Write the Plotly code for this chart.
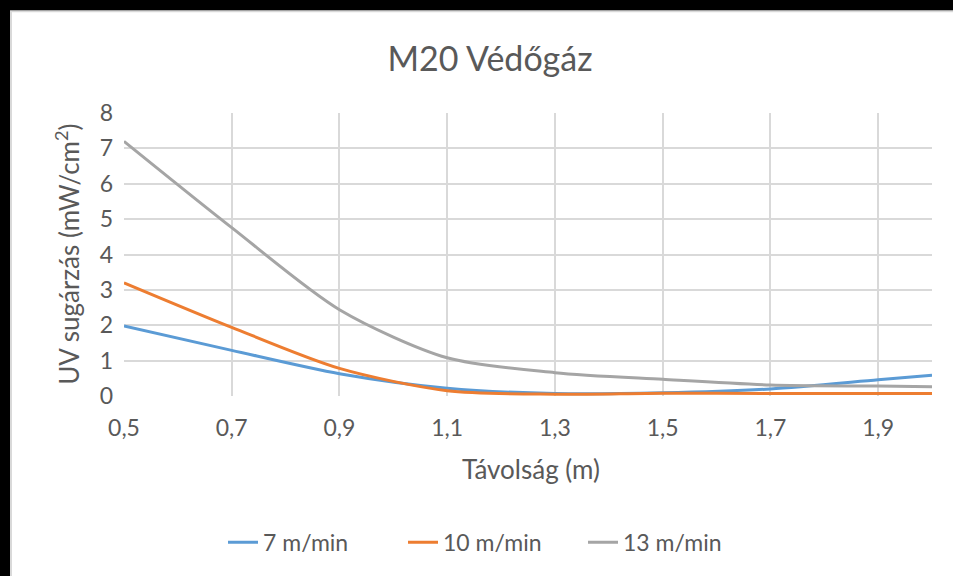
import plotly.graph_objects as go

distance = [0.5, 0.7, 0.9, 1.1, 1.3, 1.5, 1.7, 1.9, 2.0]
speed_7 = [1.98, 1.29, 0.63, 0.22, 0.07, 0.09, 0.20, 0.46, 0.59]
speed_10 = [3.20, 1.94, 0.78, 0.15, 0.05, 0.08, 0.07, 0.07, 0.07]
speed_13 = [7.20, 4.76, 2.44, 1.08, 0.66, 0.47, 0.31, 0.28, 0.26]
series_names = ["7 m/min", "10 m/min", "13 m/min"]
colors = ["#5B9BD5", "#ED7D31", "#A5A5A5"]

W, H = 953, 576
L, R, T, B = 124, 932, 113, 396.5
pw, ph = R - L, B - T


def px_x(p):
    return (p - L) / pw


def px_y(p):
    return (B - p) / ph


FONT = "Lato, 'Open Sans', sans-serif"
GRAY = "#595959"

fig = go.Figure()
for name, ys, c in zip(series_names, [speed_7, speed_10, speed_13], colors):
    fig.add_trace(go.Scatter(x=distance, y=ys, name=name, mode="lines",
                             line=dict(color=c, width=3, shape="spline", smoothing=0.8)))

fig.update_layout(
    width=W, height=H,
    margin=dict(l=L, r=W - R, t=T, b=H - B),
    paper_bgcolor="black",
    plot_bgcolor="white",
    separators=", ",
    font=dict(family=FONT, color=GRAY, size=23),
    title=dict(text="M20 Védőgáz", x=px_x(490), xref="paper", xanchor="center",
               y=1 - 59 / H, yref="container", yanchor="middle",
               font=dict(size=34, color=GRAY, family=FONT)),
    xaxis=dict(range=[0.5, 2.0], tick0=0.5, dtick=0.2, tickformat=".1f",
               showgrid=True, gridcolor="#D9D9D9", gridwidth=1.5, zeroline=False,
               showline=False, ticks="", ticklabelstandoff=16,
               tickfont=dict(size=23, color=GRAY)),
    yaxis=dict(range=[0, 8], dtick=1, showgrid=True, gridcolor="#D9D9D9", gridwidth=1.5,
               zeroline=False, showline=False, ticks="", ticklabelstandoff=10,
               tickfont=dict(size=23, color=GRAY)),
    showlegend=True,
    legend=dict(orientation="h", x=px_x(493), xanchor="center", y=px_y(543), yanchor="middle",
                entrywidth=135, entrywidthmode="pixels",
                font=dict(size=23, color=GRAY), bgcolor="rgba(0,0,0,0)"),
    shapes=[dict(type="rect", xref="paper", yref="paper", layer="below",
                 x0=px_x(11), x1=px_x(W + 5), y0=px_y(H + 5), y1=px_y(11),
                 fillcolor="white", line=dict(color="#D9D9D9", width=2))],
    annotations=[
        dict(text="Távolság (m)", xref="paper", yref="paper", x=px_x(531), y=px_y(470),
             xanchor="center", yanchor="middle", showarrow=False,
             font=dict(size=26, color=GRAY)),
        dict(text="UV sugárzás (mW/cm<sup>2</sup>)", xref="paper", yref="paper",
             x=px_x(68), y=px_y(255), xanchor="center", yanchor="middle",
             textangle=-90, showarrow=False, font=dict(size=26, color=GRAY)),
    ],
)

fig.write_html("out.html")
